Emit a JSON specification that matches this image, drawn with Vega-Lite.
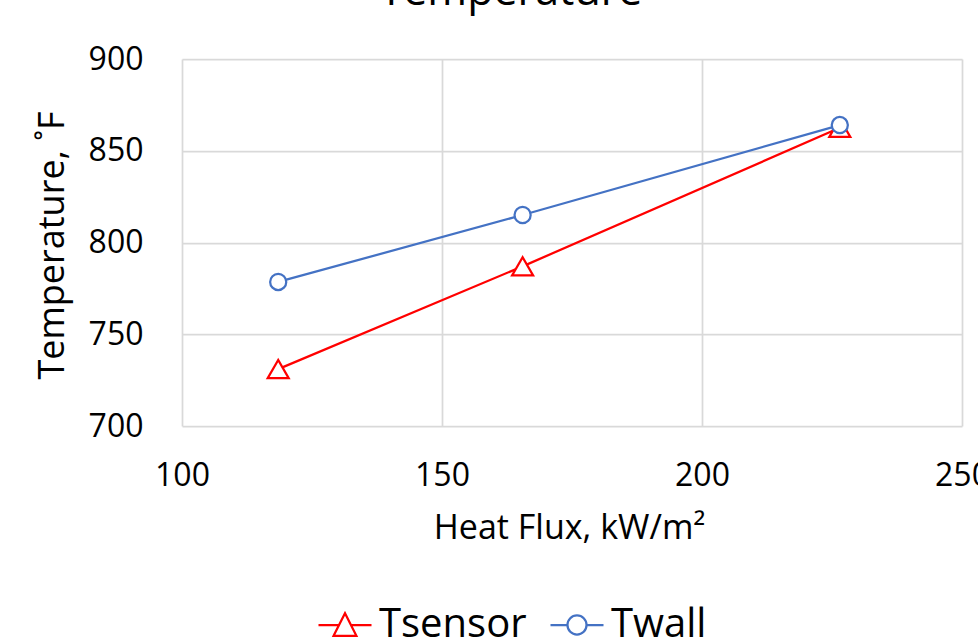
{
  "$schema": "https://vega.github.io/schema/vega-lite/v6.json",
  "autosize": {"type": "none"},
  "width": 780,
  "height": 367,
  "padding": {"left": 182, "top": 59, "right": 16, "bottom": 211},
  "background": "white",
  "config": {"font": "Open Sans", "view": {"stroke": null}},
  "title": {"text": "Temperature", "fontSize": 43, "fontWeight": "normal", "color": "black", "anchor": "middle", "frame": "group", "dx": -61, "offset": -5, "baseline": "alphabetic"},
  "data": {"values": [
    {"series": "Tsensor", "flux": 118.5, "temp": 731},
    {"series": "Tsensor", "flux": 165.5, "temp": 787},
    {"series": "Tsensor", "flux": 226.5, "temp": 862.5},
    {"series": "Twall", "flux": 118.5, "temp": 778.5},
    {"series": "Twall", "flux": 165.5, "temp": 815},
    {"series": "Twall", "flux": 226.5, "temp": 864}
  ]},
  "encoding": {
    "x": {"field": "flux", "type": "quantitative", "scale": {"domain": [100, 250], "nice": false, "zero": false},
      "axis": {"values": [100, 150, 200, 250], "title": "Heat Flux, kW/m²", "domain": false, "ticks": false, "tickSize": 0, "grid": true, "gridColor": "#D9D9D9", "gridWidth": 1.75,
        "labelFontSize": 32, "labelColor": "black", "labelPadding": 34, "labelFlush": false,
        "titleFontSize": 34, "titleFontWeight": "normal", "titleColor": "black", "titleX": 387, "titleY": 112, "titleBaseline": "alphabetic"}},
    "y": {"field": "temp", "type": "quantitative", "scale": {"domain": [700, 900], "nice": false, "zero": false},
      "axis": {"values": [700, 750, 800, 850, 900], "title": "Temperature, ˚F", "domain": false, "ticks": false, "tickSize": 0, "grid": true, "gridColor": "#D9D9D9", "gridWidth": 1.75,
        "labelFontSize": 32, "labelColor": "black", "labelPadding": 39,
        "titleFontSize": 36, "titleFontWeight": "normal", "titleColor": "black", "titleX": -129.5, "titleY": 186, "titleBaseline": "middle", "titleAngle": -90}}
  },
  "layer": [
    {"mark": {"type": "line", "strokeWidth": 2.25},
      "encoding": {
        "color": {"field": "series", "type": "nominal", "scale": {"domain": ["Tsensor", "Twall"], "range": ["#FF0000", "#4472C4"]},
          "legend": {"orient": "none", "legendX": 135, "legendY": 538, "direction": "horizontal", "title": null,
            "labelFontSize": 40, "labelColor": "black", "labelOffset": 6, "columnPadding": 19, "symbolSize": 2809, "symbolStrokeWidth": 2.25,
            "encode": {"symbols": {"update": {
              "shape": {"signal": "datum.value === 'Tsensor' ? 'M-1,0H-0.223M0.223,0H1M-0.43,0.41L0,-0.44L0.43,0.41Z' : 'M-1,0H-0.36M0.36,0H1M-0.36,0A0.36,0.36 0 1,0 0.36,0A0.36,0.36 0 1,0 -0.36,0Z'"},
              "fill": {"value": "white"},
              "strokeWidth": {"value": 2.25}
            }}}}}
      }},
    {"mark": {"type": "point", "strokeWidth": 2.25, "opacity": 1},
      "encoding": {
        "stroke": {"field": "series", "type": "nominal", "scale": {"domain": ["Tsensor", "Twall"], "range": ["#FF0000", "#4472C4"]}, "legend": null},
        "fill": {"value": "white"},
        "shape": {"condition": {"test": "datum.series === 'Tsensor'", "value": "triangle-up"}, "value": "circle"},
        "size": {"condition": {"test": "datum.series === 'Tsensor'", "value": 440}, "value": 260}
      }}
  ]
}
